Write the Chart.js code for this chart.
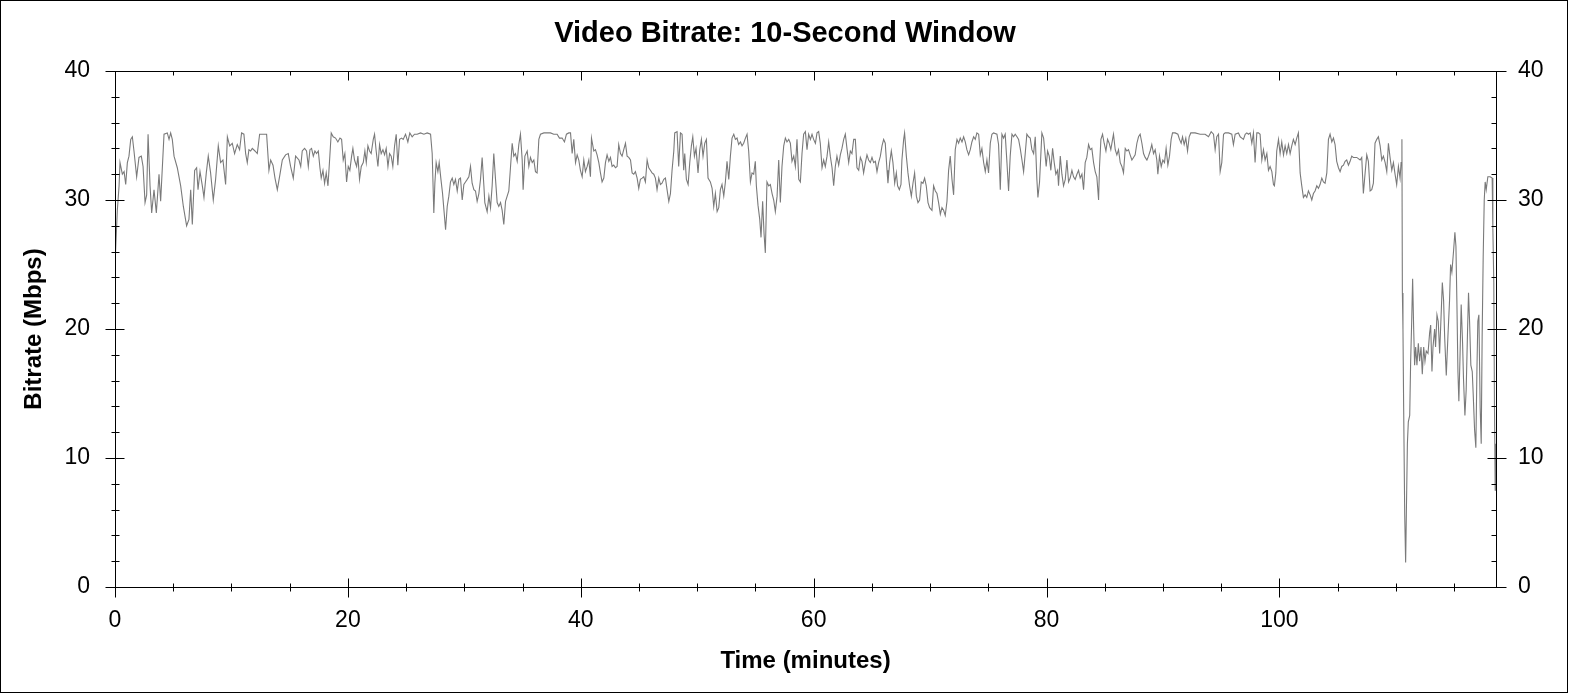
<!DOCTYPE html>
<html>
<head>
<meta charset="utf-8">
<title>Video Bitrate: 10-Second Window</title>
<script src="https://cdn.jsdelivr.net/npm/chart.js@4.4.1/dist/chart.umd.min.js"></script>
<style>
  html, body { margin: 0; padding: 0; background: #ffffff; }
  #wrap { width: 1570px; height: 695px; }
</style>
</head>
<body>
<div id="wrap"><canvas id="bitrateChart" width="1570" height="695"></canvas></div>
<script>
// time axis (minutes) and bitrate (Mbps)
const minutes = [
  0, 0.2, 0.35, 0.43, 0.63, 0.78, 0.92, 1.06, 1.2, 1.35,
  1.49, 1.63, 1.86, 2.06, 2.26, 2.41, 2.58, 2.72, 2.84, 3.01,
  3.15, 3.35, 3.55, 3.78, 3.92, 4.21, 4.49, 4.64, 4.78, 4.92,
  5.07, 5.35, 5.64, 5.87, 6.15, 6.35, 6.5, 6.64, 6.84, 7.01,
  7.13, 7.3, 7.5, 7.64, 7.84, 8.01, 8.21, 8.44, 8.64, 8.87,
  9.07, 9.27, 9.5, 9.65, 9.85, 10.07, 10.27, 10.5, 10.7, 10.87,
  11.07, 11.22, 11.36, 11.5, 11.65, 11.79, 12.02, 12.22, 12.42, 12.79,
  13.02, 13.22, 13.37, 13.57, 13.74, 13.94, 14.17, 14.37, 14.65, 14.88,
  15.08, 15.31, 15.51, 15.8, 15.95,
  16.08, 16.28, 16.45, 16.6, 16.74, 16.88, 17.03, 17.17, 17.31, 17.46,
  17.6, 17.71, 17.86, 18.0, 18.14, 18.29, 18.43, 18.57, 18.74, 18.94,
  19.14, 19.32, 19.46, 19.6, 19.74, 19.89, 20.03, 20.17, 20.32, 20.43,
  20.57, 20.75, 20.86, 21.0, 21.15, 21.32, 21.46, 21.58, 21.72, 21.86,
  22.0, 22.18, 22.29, 22.43, 22.58, 22.72, 22.86, 23.01, 23.15, 23.29,
  23.44, 23.58, 23.72, 23.86, 24.01, 24.15, 24.29, 24.44, 24.61, 24.75,
  24.95, 25.15, 25.32, 25.52, 25.72, 25.95, 26.24, 26.53, 26.81, 27.1,
  27.24, 27.38, 27.47, 27.58, 27.73, 27.84, 27.98, 28.13, 28.27, 28.39,
  28.53, 28.67, 28.81, 28.96, 29.1, 29.24, 29.39, 29.53, 29.67, 29.82,
  29.96, 30.1, 30.25, 30.39, 30.53, 30.67, 30.82, 30.96, 31.1, 31.25,
  31.39, 31.53, 31.68, 31.76,
  31.96, 32.11, 32.25, 32.39, 32.53, 32.68, 32.82, 32.96, 33.11, 33.25,
  33.39, 33.54, 33.68, 33.82, 33.97, 34.11, 34.25, 34.39, 34.54, 34.68,
  34.82, 34.97, 35.05, 35.2, 35.4, 35.54, 35.68, 35.83, 35.97, 36.11,
  36.25, 36.4, 36.54, 36.83, 37.11, 37.4, 37.68, 37.97, 38.17, 38.4,
  38.6, 38.77, 38.97, 39.12, 39.26, 39.4, 39.55, 39.69, 39.83, 39.97,
  40.12, 40.26, 40.4, 40.55, 40.69, 40.83, 40.92, 41.12, 41.26, 41.4,
  41.55, 41.69, 41.83, 41.98, 42.12, 42.26, 42.41, 42.55, 42.69, 42.83,
  42.98, 43.12, 43.26, 43.41, 43.55, 43.69, 43.84, 43.98, 44.12, 44.27,
  44.41, 44.55, 44.69, 44.84, 44.98, 45.12, 45.27, 45.41, 45.55, 45.7,
  45.84, 45.98, 46.12, 46.27, 46.41, 46.55, 46.7, 46.84, 46.98, 47.13,
  47.27, 47.41, 47.56, 47.7,
  47.84, 47.99, 48.07, 48.27, 48.41, 48.56, 48.7, 48.84, 48.93, 49.07,
  49.22, 49.36, 49.5, 49.62, 49.76, 49.9, 50.07, 50.22, 50.36, 50.5,
  50.65, 50.79, 50.93, 51.13, 51.28, 51.42, 51.56, 51.71, 51.85, 51.99,
  52.13, 52.28, 52.42, 52.56, 52.71, 52.85, 52.99, 53.14, 53.28, 53.42,
  53.56, 53.71, 53.85, 53.99, 54.14, 54.28, 54.42, 54.57, 54.71, 54.85,
  54.99, 55.08, 55.22, 55.37, 55.48, 55.62, 55.74, 55.85, 55.99, 56.14,
  56.28, 56.43, 56.57, 56.71, 56.86, 57.0, 57.14, 57.28, 57.43, 57.57,
  57.71, 57.86, 58.0, 58.14, 58.29, 58.43, 58.57, 58.72, 58.86, 59.0,
  59.14, 59.29, 59.43, 59.57, 59.72, 59.86, 60.0, 60.15, 60.29, 60.43,
  60.57, 60.72, 60.86, 61.0, 61.15, 61.29, 61.43, 61.58, 61.72, 61.86,
  62.0, 62.15, 62.29, 62.43, 62.58, 62.72, 62.86, 63.01, 63.15, 63.29,
  63.44, 63.58,
  63.72, 63.87, 64.01, 64.15, 64.29, 64.44, 64.58, 64.72, 64.87, 65.01,
  65.15, 65.3, 65.44, 65.58, 65.73, 65.87, 66.01, 66.15, 66.3, 66.38,
  66.53, 66.67, 66.81, 66.96, 67.1, 67.21, 67.36, 67.5, 67.58, 67.73,
  67.81, 67.96, 68.1, 68.24, 68.39, 68.53, 68.67, 68.82, 68.96, 69.1,
  69.24, 69.39, 69.53, 69.67, 69.82, 69.96, 70.16, 70.3, 70.45, 70.59,
  70.73, 70.88, 71.02, 71.16, 71.3, 71.45, 71.59, 71.73, 71.88, 72.02,
  72.16, 72.31, 72.45, 72.59, 72.74, 72.88, 73.02, 73.16, 73.31, 73.45,
  73.59, 73.74, 73.88, 74.02, 74.17, 74.31, 74.45, 74.6, 74.74, 74.88,
  75.02, 75.17, 75.31, 75.45, 75.74, 75.88, 76.03, 76.17, 76.31, 76.45,
  76.6, 76.74, 76.88, 77.03, 77.17, 77.31, 77.46, 77.6, 77.74, 77.89,
  78.03, 78.17, 78.31, 78.46, 78.6, 78.74, 78.89, 79.03, 79.17, 79.26,
  79.4,
  79.6, 79.75, 79.89, 79.97, 80.09, 80.23, 80.37, 80.52, 80.66, 80.8,
  80.95, 81.03, 81.18, 81.32, 81.46, 81.61, 81.75, 81.89, 82.03, 82.18,
  82.32, 82.46, 82.61, 82.75, 82.89, 83.04, 83.18, 83.32, 83.46, 83.61,
  83.75, 83.89, 84.04, 84.18, 84.32, 84.47, 84.55, 84.67, 84.81, 84.95,
  85.1, 85.24, 85.38, 85.52, 85.67, 85.75, 85.9, 86.04, 86.18, 86.33,
  86.47, 86.61, 86.76, 86.9, 87.04, 87.18, 87.33, 87.47, 87.61, 87.76,
  87.9, 88.04, 88.19, 88.33, 88.47, 88.62, 88.76, 88.9, 89.04, 89.19,
  89.33, 89.47, 89.56, 89.7, 89.85, 89.99, 90.13, 90.27, 90.42, 90.56,
  90.7, 90.82, 91.05, 91.28, 91.42, 91.56, 91.68, 91.82, 91.96, 92.11,
  92.25, 92.39, 92.76, 93.19, 93.62, 93.91, 94.14, 94.34, 94.48, 94.62,
  94.77, 94.91, 95.05, 95.2, 95.34,
  95.63, 95.91, 96.05, 96.2, 96.48, 96.63, 96.77, 96.91, 97.06, 97.2,
  97.34, 97.49, 97.63, 97.77, 97.91, 98.06, 98.2, 98.34, 98.49, 98.63,
  98.77, 98.92, 99.06, 99.2, 99.35, 99.49, 99.57, 99.69, 99.77, 99.92,
  100.06, 100.2, 100.35, 100.49, 100.63, 100.78, 100.92, 101.06, 101.2, 101.35,
  101.49, 101.63, 101.78, 101.92, 102.06, 102.21, 102.35, 102.49, 102.64, 102.78,
  102.92, 103.06, 103.21, 103.35, 103.49, 103.64, 103.78, 103.92, 104.07, 104.21,
  104.35, 104.5, 104.64, 104.78, 104.92, 105.07, 105.21, 105.35, 105.5, 105.64,
  105.78, 105.93, 106.07, 106.21, 106.35, 106.64, 106.93, 107.07, 107.21, 107.36,
  107.5, 107.64, 107.79, 107.93, 108.07, 108.21, 108.36, 108.5, 108.65, 108.79,
  108.93, 109.08, 109.22, 109.36, 109.5, 109.65, 109.79, 109.93, 110.07, 110.22,
  110.36, 110.45, 110.52,
  110.56, 110.61, 110.67, 110.76, 110.84, 110.9, 110.99, 111.07, 111.19, 111.27,
  111.36, 111.44, 111.53, 111.61, 111.7, 111.81, 111.93, 112.04, 112.16, 112.27,
  112.39, 112.5, 112.61, 112.76, 112.9, 112.99, 113.1, 113.19, 113.33, 113.41,
  113.53, 113.64, 113.76, 113.9, 113.99, 114.1, 114.19, 114.33, 114.47, 114.61,
  114.7, 114.81, 114.96, 115.07, 115.16, 115.24, 115.33, 115.41, 115.5, 115.61,
  115.73, 115.81, 115.93, 116.04, 116.16, 116.24, 116.33, 116.44, 116.56, 116.64,
  116.76, 116.87, 116.96, 117.04, 117.13, 117.24, 117.33, 117.41, 117.5, 117.59,
  117.67, 117.76, 117.9, 118.1, 118.27, 118.33, 118.41, 118.47, 118.53, 118.59
];

const bitrate = [
  25.0, 29.2, 31.1, 32.9, 32.0, 32.2, 31.2, 32.9, 33.4, 34.7,
  34.9, 33.8, 31.8, 33.3, 33.4, 32.6, 29.8, 30.4, 35.1, 31.1,
  29.0, 30.8, 29.0, 32.0, 29.9, 35.1, 35.2, 34.7, 35.2, 34.7,
  33.4, 32.5, 31.1, 29.5, 28.0, 28.5, 30.8, 28.1, 32.3, 32.5,
  30.8, 32.2, 31.1, 30.2, 32.1, 33.4, 32.1, 30.0, 31.6, 34.2,
  32.9, 33.1, 31.2, 34.9, 34.2, 34.4, 33.6, 34.3, 33.9, 35.2,
  35.1, 33.6, 32.9, 33.9, 33.8, 34.0, 33.8, 33.6, 35.1, 35.1,
  35.1, 32.3, 33.1, 32.7, 31.7, 30.8, 32.0, 33.1, 33.5, 33.6,
  32.6, 31.7, 33.4, 33.1, 32.6,
  33.8, 34.0, 33.8, 32.6, 33.9, 34.0, 33.4, 33.8, 33.6, 33.8,
  32.5, 31.7, 32.3, 31.3, 32.1, 31.1, 33.1, 35.2, 34.9, 34.8,
  34.5, 34.8, 34.7, 33.1, 33.6, 31.4, 32.6, 32.3, 33.4, 34.0,
  33.1, 32.6, 33.4, 31.6, 32.6, 32.9, 33.8, 32.9, 34.2, 33.8,
  33.6, 34.7, 35.1, 33.8, 32.6, 34.3, 33.6, 33.9, 33.5, 34.0,
  32.6, 33.6, 33.4, 32.6, 34.2, 35.1, 32.7, 34.7, 34.8, 34.7,
  35.1, 34.5, 35.2, 34.9, 35.1, 35.1, 35.2, 35.1, 35.2, 35.1,
  33.6, 29.0, 31.3, 32.9, 32.2, 32.9, 31.7, 30.5, 29.0, 27.7,
  29.5, 30.3, 31.4, 31.7, 31.2, 31.6, 30.7, 31.6, 31.7, 30.0,
  31.2, 31.4, 31.6, 31.8, 32.6, 31.3, 30.8, 30.7, 29.9, 30.5,
  31.6, 33.3, 31.1, 29.8,
  29.1, 30.3, 29.4, 31.1, 33.6, 31.6, 29.8, 29.5, 29.8, 29.2,
  28.1, 29.9, 30.3, 30.7, 32.6, 34.4, 33.4, 33.6, 33.0, 34.3,
  35.1, 33.1, 30.8, 33.4, 33.8, 32.6, 33.3, 32.9, 33.1, 32.2,
  32.1, 34.7, 35.1, 35.2, 35.2, 35.2, 35.1, 35.1, 34.8, 34.8,
  34.5, 35.1, 35.2, 35.2, 33.6, 34.7, 32.9, 33.5, 33.1, 32.3,
  31.8, 33.1, 32.2, 32.6, 33.1, 31.8, 34.8, 33.8, 33.9, 33.5,
  32.9, 32.1, 31.4, 31.7, 32.9, 33.5, 33.0, 33.3, 32.6, 32.7,
  32.5, 32.6, 34.3, 33.6, 33.4, 33.9, 34.4, 33.4, 33.3, 33.1,
  32.1, 32.0, 32.2, 31.7, 30.9, 31.6, 31.7, 31.8, 31.4, 33.1,
  32.5, 32.3, 32.1, 32.0, 31.7, 30.8, 31.7, 31.2, 31.3, 31.6,
  31.7, 30.8, 29.9, 30.5,
  32.3, 33.8, 35.2, 35.3, 32.6, 35.2, 35.1, 32.3, 33.6, 31.6,
  31.2, 32.9, 34.2, 34.9, 33.4, 34.0, 32.1, 33.9, 34.7, 33.4,
  34.4, 34.7, 31.7, 31.4, 30.9, 29.5, 30.5, 29.1, 29.4, 30.8,
  31.2, 30.3, 31.4, 33.0, 31.6, 33.4, 34.8, 35.1, 34.7, 34.8,
  34.3, 34.5, 34.2, 34.4, 34.8, 35.1, 33.8, 31.4, 32.1, 32.0,
  33.0, 31.1, 29.6, 28.5, 27.1, 29.9, 27.4, 25.9, 31.4, 31.1,
  31.2, 30.5, 30.0, 29.1, 30.3, 33.1, 29.8, 32.6, 34.2, 34.8,
  34.5, 34.7, 34.4, 33.0, 33.4, 32.6, 34.7, 31.6, 31.4, 33.6,
  35.1, 35.3, 33.9, 35.1, 34.7, 35.1, 34.7, 34.4, 35.2, 35.3,
  34.4, 32.5, 33.1, 32.6, 33.4, 34.5, 33.4, 32.5, 31.1, 32.6,
  33.4, 32.7, 33.5, 34.0, 34.7, 35.1, 34.0, 32.9, 33.8, 33.6,
  34.7, 34.7,
  32.5, 32.3, 33.3, 33.0, 32.1, 32.9, 33.5, 33.1, 32.9, 33.3,
  32.9, 33.0, 32.2, 32.9, 33.4, 34.2, 34.7, 34.4, 32.3, 31.3,
  32.9, 33.8, 32.9, 31.3, 32.1, 31.1, 30.8, 31.2, 33.1, 34.7,
  35.2, 33.4, 32.1, 31.1, 30.3, 31.3, 32.1, 30.3, 29.8, 30.0,
  31.4, 31.3, 31.7, 31.1, 29.8, 29.4, 29.2, 31.1, 30.7, 30.5,
  29.8, 28.9, 29.4, 29.2, 28.8, 29.9, 32.3, 33.4, 31.6, 30.4,
  33.9, 34.7, 34.4, 34.8, 34.5, 34.9, 34.5, 33.9, 33.5, 33.9,
  34.5, 34.9, 34.7, 35.2, 35.1, 33.5, 34.0, 32.9, 32.2, 33.1,
  32.1, 34.4, 35.1, 35.2, 35.1, 34.3, 30.8, 35.1, 34.8, 35.1,
  32.9, 30.7, 33.4, 35.1, 34.9, 35.1, 34.9, 34.7, 34.0, 33.1,
  32.2, 33.6, 35.1, 34.9, 34.8, 33.9, 33.6, 34.9, 31.6, 30.2,
  31.4,
  35.2, 34.8, 33.4, 32.6, 33.8, 33.4, 32.3, 34.0, 32.9, 32.0,
  32.3, 31.1, 33.4, 32.0, 31.1, 31.6, 33.1, 31.4, 31.7, 32.3,
  31.8, 31.6, 32.0, 32.3, 31.7, 32.0, 30.8, 32.9, 33.3, 34.3,
  33.9, 34.0, 32.9, 32.2, 31.8, 30.0, 32.6, 34.7, 35.1, 34.4,
  33.8, 34.7, 34.4, 33.9, 34.7, 35.1, 33.9, 33.5, 33.9, 32.9,
  32.6, 32.1, 34.0, 33.8, 33.9, 33.5, 33.1, 33.3, 33.5, 34.4,
  34.9, 35.1, 34.4, 33.6, 33.3, 33.1, 33.4, 33.8, 34.3, 33.6,
  33.9, 33.1, 32.0, 33.4, 32.6, 33.1, 32.9, 34.0, 32.7, 33.4,
  34.7, 35.2, 35.2, 35.1, 34.7, 34.4, 34.9, 34.3, 34.8, 33.8,
  34.9, 35.2, 35.2, 35.1, 35.1, 34.9, 35.3, 35.1, 33.9, 34.9,
  35.1, 32.2, 32.9, 35.1, 35.2,
  35.2, 35.1, 34.3, 35.1, 35.2, 34.9, 34.8, 34.7, 35.1, 35.2,
  35.1, 35.2, 34.4, 35.2, 32.9, 35.2, 35.2, 35.1, 33.1, 33.9,
  33.1, 33.6, 32.3, 32.6, 32.2, 31.2, 31.1, 32.1, 33.8, 34.7,
  33.6, 34.5, 33.5, 34.2, 33.6, 34.3, 33.6, 34.2, 34.7, 34.3,
  34.8, 35.2, 32.1, 31.1, 30.2, 30.4, 30.2, 30.7, 30.4, 30.0,
  30.5, 30.7, 31.1, 30.9, 31.2, 31.7, 31.4, 31.3, 32.1, 34.7,
  35.1, 34.5, 34.8, 34.3, 33.0, 32.5, 32.2, 32.6, 32.7, 33.0,
  33.1, 32.7, 33.0, 33.4, 33.3, 33.3, 33.1, 33.3, 30.5, 32.1,
  33.5, 33.0, 30.7, 30.8, 31.3, 34.4, 34.7, 34.9, 34.2, 33.1,
  33.4, 32.9, 32.2, 34.4, 33.3, 32.3, 32.9, 32.0, 31.2, 32.6,
  31.7, 32.9, 34.7,
  22.8, 20.0, 13.9, 5.6, 1.9, 5.6, 11.1, 12.8, 13.3, 17.5,
  20.6, 23.9, 20.0, 17.2, 18.6, 17.2, 18.9, 17.5, 18.6, 16.5,
  18.6, 17.5, 18.3, 18.1, 19.7, 20.3, 16.7, 18.6, 20.0, 18.6,
  21.1, 20.6, 18.1, 21.4, 23.6, 22.2, 19.4, 16.4, 19.4, 22.2,
  25.0, 24.4, 26.1, 27.5, 26.4, 22.2, 16.7, 14.4, 17.5, 21.9,
  18.9, 16.1, 13.3, 15.3, 20.0, 22.8, 20.6, 17.2, 16.7, 15.0,
  12.2, 10.8, 16.7, 20.6, 21.1, 13.9, 11.1, 19.4, 25.6, 30.0,
  31.4, 30.8, 31.8, 31.8, 31.7, 27.8, 23.6, 13.9, 7.5, 11.1
];

const xMax = 118.6;
const xTicks = [0, 20, 40, 60, 80, 100];
const xMinorTicks = [5, 10, 15, 25, 30, 35, 45, 50, 55, 65, 70, 75, 85, 90, 95, 105, 110, 115];
const yTicks = [0, 10, 20, 30, 40];
const yMinorTicks = [2, 4, 6, 8, 12, 14, 16, 18, 22, 24, 26, 28, 32, 34, 36, 38];

const FONT = "'Liberation Sans', Arial, sans-serif";

// frame, outer border and tick marks (major ones cross the axis, minor ones are short)
const frameTicks = {
  id: "frameTicks",
  afterDraw(chart) {
    const { ctx, chartArea: a, scales } = chart;
    const L = Math.round(a.left) + 0.5;
    const R = Math.round(a.right) + 0.5;
    const T = Math.round(a.top) + 0.5;
    const B = Math.round(a.bottom) + 0.5;
    const px = (v) => Math.round(scales.x.getPixelForValue(v)) + 0.5;
    const py = (v) => Math.round(scales.y.getPixelForValue(v)) + 0.5;

    ctx.save();
    ctx.strokeStyle = "#000";
    ctx.lineWidth = 1;
    ctx.strokeRect(0.5, 0.5, chart.width - 3, chart.height - 3);
    ctx.strokeRect(L, T, R - L, B - T);

    ctx.beginPath();
    xTicks.forEach((v) => {
      const x = px(v);
      ctx.moveTo(x, B - 9); ctx.lineTo(x, B + 10);
      ctx.moveTo(x, T); ctx.lineTo(x, T + 9);
    });
    xMinorTicks.forEach((v) => {
      const x = px(v);
      ctx.moveTo(x, B - 4); ctx.lineTo(x, B + 4);
      ctx.moveTo(x, T); ctx.lineTo(x, T + 4);
    });
    yTicks.forEach((v) => {
      const y = py(v);
      ctx.moveTo(L - 10, y); ctx.lineTo(L + 9, y);
      ctx.moveTo(R - 9, y); ctx.lineTo(R + 10, y);
    });
    yMinorTicks.forEach((v) => {
      const y = py(v);
      ctx.moveTo(L - 4, y); ctx.lineTo(L + 4, y);
      ctx.moveTo(R - 5, y); ctx.lineTo(R, y);
    });
    ctx.stroke();
    ctx.restore();
  },
};

const points = minutes.map((t, i) => ({ x: t, y: bitrate[i] }));

const tickFont = { family: FONT, size: 23 };
const titleFont = { family: FONT, size: 24, weight: "bold", lineHeight: 1.2 };

new Chart(document.getElementById("bitrateChart"), {
  type: "line",
  data: {
    datasets: [
      {
        data: points,
        borderColor: "#7a7a7a",
        borderWidth: 1.1,
        pointRadius: 0,
        tension: 0,
        fill: false,
      },
    ],
  },
  options: {
    responsive: false,
    animation: false,
    devicePixelRatio: 1,
    parsing: false,
    layout: { padding: 0 },
    plugins: {
      legend: { display: false },
      tooltip: { enabled: false },
      title: {
        display: true,
        text: "Video Bitrate: 10-Second Window",
        color: "#000",
        font: { family: FONT, size: 29, weight: "bold", lineHeight: 1.2 },
        padding: { top: 17, bottom: 0 },
      },
    },
    scales: {
      x: {
        type: "linear",
        position: "bottom",
        min: 0,
        max: xMax,
        afterBuildTicks: (s) => { s.ticks = xTicks.map((v) => ({ value: v })); },
        afterFit: (s) => { s.height = 108; },
        grid: { display: false, drawTicks: false },
        border: { display: false },
        ticks: { color: "#000", font: tickFont, padding: 20, maxRotation: 0 },
        title: {
          display: true,
          text: "Time (minutes)",
          color: "#000",
          font: titleFont,
          padding: { top: 0, bottom: 19 },
        },
      },
      xTop: {
        type: "linear",
        position: "top",
        min: 0,
        max: xMax,
        afterFit: (s) => { s.height = 71 - 17 - 29 * 1.2; },
        grid: { display: false, drawTicks: false },
        border: { display: false },
        ticks: { display: false },
      },
      y: {
        type: "linear",
        position: "left",
        min: 0,
        max: 40,
        afterBuildTicks: (s) => { s.ticks = yTicks.map((v) => ({ value: v })); },
        afterFit: (s) => { s.width = 115; },
        grid: { display: false, drawTicks: false },
        border: { display: false },
        ticks: { color: "#000", font: tickFont, padding: 25 },
        title: {
          display: true,
          text: "Bitrate (Mbps)",
          color: "#000",
          font: titleFont,
          padding: { top: 20, bottom: 0 },
        },
      },
      y2: {
        type: "linear",
        position: "right",
        min: 0,
        max: 40,
        afterBuildTicks: (s) => { s.ticks = yTicks.map((v) => ({ value: v })); },
        afterFit: (s) => { s.width = 74; },
        grid: { display: false, drawTicks: false },
        border: { display: false },
        ticks: { color: "#000", font: tickFont, padding: 22 },
      },
    },
  },
  plugins: [frameTicks],
});
</script>
</body>
</html>
